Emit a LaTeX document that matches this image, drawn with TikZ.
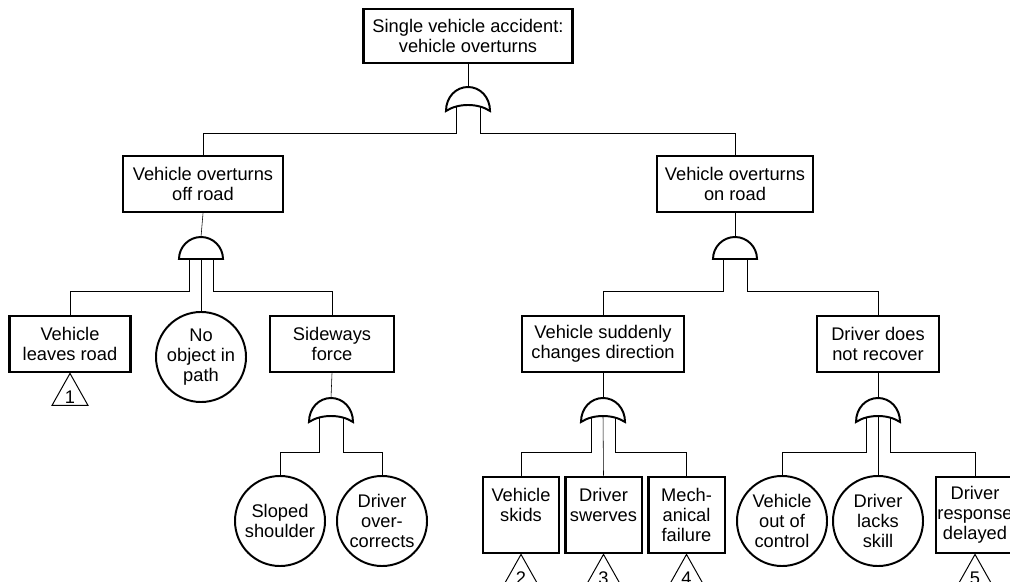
\documentclass[tikz,border=0pt]{standalone}
\usepackage{fontspec}
\setmainfont{Liberation Sans}
\usetikzlibrary{backgrounds}

\begin{document}
\begin{tikzpicture}[
    x=0.025cm, y=-0.025cm,
    every node/.style={font=\fontsize{13}{14.2}\selectfont},
    fault/.style={rectangle, draw, line width=2pt, inner sep=0pt, align=center, minimum height=1.4cm},
    basic/.style={circle, draw, line width=1.4pt, inner sep=0pt, minimum size=2.25cm, align=center},
    gate/.style={draw, line width=1.4pt, fill=white},
    link/.style={line width=0.9pt},
    % gates sit on their base line, inputs hang below
    andgate/.pic={
        \path[gate] (-22,0) .. controls (-22,-12.1) and (-12.1,-22) .. (0,-22)
            .. controls (12.1,-22) and (22,-12.1) .. (22,0) -- cycle;
        \coordinate (-top) at (0,-22);
        \coordinate (-l) at (-12,0);
        \coordinate (-m) at (0,0);
        \coordinate (-r) at (12,0);
    },
    orgate/.pic={
        \path[gate] (-22,0) .. controls (-22,-14) and (-12,-24) .. (0,-24)
            .. controls (12,-24) and (22,-14) .. (22,0)
            .. controls (10,-8) and (-10,-8) .. (-22,0) -- cycle;
        \coordinate (-top) at (0,-24);
        \coordinate (-l) at (-12,-4);
        \coordinate (-m) at (0,-6);
        \coordinate (-r) at (12,-4);
    },
    transfer/.pic={
        \draw[line width=0.7pt] (0,0) -- (-18,32) -- (18,32) -- cycle;
        \node[inner sep=0pt] (-num) at (0,24) {#1};
    }
]
\useasboundingbox (0,0) rectangle (1010,582);

% top event and first level
\node[fault, minimum width=5.22cm, minimum height=1.35cm] (top) at (468,36) {Single vehicle accident:\\vehicle overturns};
\pic (g0) at (468,111) {orgate};

\node[fault, minimum width=4cm] (off) at (203,184) {Vehicle overturns\\off road};
\node[fault, minimum width=3.9cm] (on) at (735,184) {Vehicle overturns\\on road};
\pic (g1) at (201,259) {andgate};
\pic (g3) at (735,259) {andgate};

% off road branch
\node[fault, minimum width=3.02cm] (leaves) at (70,344) {Vehicle\\leaves road};
\node[basic] (noobj) at (201,357) {No\\object in\\path};
\node[fault, minimum width=3.1cm] (sideways) at (332,344) {Sideways\\force};
\pic (g2) at (331,422) {orgate};
\node[basic] (sloped) at (280,521) {Sloped\\shoulder};
\node[basic] (overcorr) at (382,521) {Driver\\over-\\corrects};

% on road branch
\node[fault, minimum width=4.05cm] (sudden) at (603,344) {Vehicle suddenly\\changes direction};
\node[fault, minimum width=3.05cm] (recover) at (878,344) {Driver does\\not recover};
\pic (g4) at (603,422) {orgate};
\pic (g5) at (878,422) {orgate};

\node[fault, minimum width=1.9cm, minimum height=1.9cm] (skids) at (521,515) {Vehicle\\skids\\\mbox{}};
\node[fault, minimum width=1.92cm, minimum height=1.9cm] (swerves) at (603.5,515) {Driver\\swerves\\\mbox{}};
\node[fault, minimum width=1.92cm, minimum height=1.9cm] (mech) at (686.5,515) {Mech-\\anical\\failure};
\node[basic] (outctrl) at (782,521) {Vehicle\\out of\\control};
\node[basic] (lacks) at (878,521) {Driver\\lacks\\skill};
\node[fault, minimum width=1.95cm, minimum height=1.9cm] (delayed) at (975,515) {Driver\\response\\delayed};

% transfer symbols
\pic at (leaves.south) {transfer=1};
\pic at (skids.south) {transfer=2};
\pic at (swerves.south) {transfer=3};
\pic at (mech.south) {transfer=4};
\pic at (delayed.south) {transfer=5};

\begin{scope}[on background layer, link]
    \draw (top.south) -- (g0-top);
    \draw (g0-l) -- ++(0,26) -| (off.north);
    \draw (g0-r) -- ++(0,26) -| (on.north);

    \draw (off.south) -- (g1-top);
    \draw (g1-l) -- ++(0,32) -| (leaves.north);
    \draw (g1-m) -- (noobj.north);
    \draw (g1-r) -- ++(0,32) -| (sideways.north);

    \draw (sideways.south) -- (g2-top);
    \draw (g2-l) -- ++(0,34) -| (sloped.north);
    \draw (g2-r) -- ++(0,34) -| (overcorr.north);

    \draw (on.south) -- (g3-top);
    \draw (g3-l) -- ++(0,32) -| (sudden.north);
    \draw (g3-r) -- ++(0,32) -| (recover.north);

    \draw (sudden.south) -- (g4-top);
    \draw (g4-l) -- ++(0,34) -| (skids.north);
    \draw (g4-m) -- (swerves.north);
    \draw (g4-r) -- ++(0,34) -| (mech.north);

    \draw (recover.south) -- (g5-top);
    \draw (g5-l) -- ++(0,34) -| (outctrl.north);
    \draw (g5-m) -- (lacks.north);
    \draw (g5-r) -- ++(0,34) -| (delayed.north);
\end{scope}

\end{tikzpicture}
\end{document}
